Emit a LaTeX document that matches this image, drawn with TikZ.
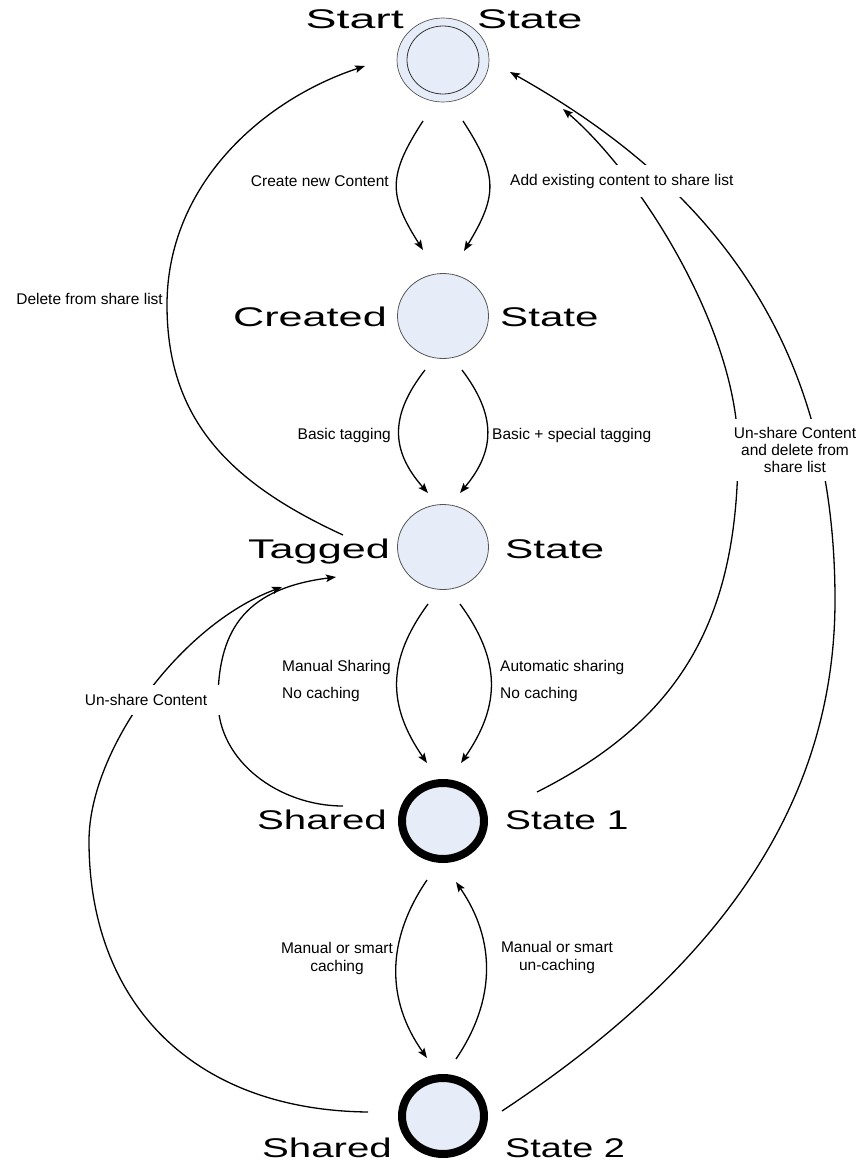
\documentclass[tikz,border=0pt]{standalone}
\usepackage{fontspec}
\usepackage{graphicx}
\setmainfont{Liberation Sans}
\usetikzlibrary{shapes.geometric,arrows.meta,calc}
\definecolor{statefill}{RGB}{231,237,248}
\definecolor{ringgray}{RGB}{85,85,85}
\newcommand\stretchtxt[2]{\scalebox{#1}[1]{#2}}
\begin{document}
\begin{tikzpicture}[x=1pt,y=-1pt,
  state/.style={ellipse, draw=ringgray, line width=0.8pt, fill=statefill, minimum width=91pt, minimum height=85pt, inner sep=0pt},
  startout/.style={ellipse, draw=ringgray, line width=0.7pt, fill=statefill, minimum width=92pt, minimum height=84pt, inner sep=0pt},
  startin/.style={ellipse, draw=black!80, line width=0.8pt, minimum width=72pt, minimum height=68pt, inner sep=0pt},
  shared/.style={ellipse, draw=black, line width=8pt, fill=statefill, minimum width=82pt, minimum height=76pt, inner sep=0pt},
  big/.style={font=\fontsize{27}{30}\selectfont, inner sep=0pt},
  lbl/.style={font=\fontsize{15.5}{18}\selectfont, inner sep=0pt},
  conn/.style={line width=1.3pt, -{Stealth[length=10pt,width=7.5pt,inset=2pt]}},
]
\useasboundingbox (0,0) rectangle (861,1162);

% states
\node[startout] (s0) at (443,60) {};
\node[startin] (s0in) at (s0) {};
\node[state] (cr) at (443,316) {};
\node[state] (tg) at (443,547) {};
\node[shared] (sh1) at (443,821) {};
\node[shared] (sh2) at (443,1116) {};

% vertical transitions
\draw[conn] ($(s0)+(-20,61)$) .. controls (388,175) and (388,195) .. ($(cr)+(-20,-66)$);
\draw[conn] ($(s0)+(20,61)$) .. controls (498,175) and (498,195) .. ($(cr)+(21,-65)$);
\draw[conn] ($(cr)+(-18,54)$) .. controls (390,415) and (390,450) .. ($(tg)+(-15,-54)$);
\draw[conn] ($(cr)+(19,54)$) .. controls (496,415) and (496,450) .. ($(tg)+(17,-54)$);
\draw[conn] ($(tg)+(-15,57)$) .. controls (387,660) and (387,705) .. ($(sh1)+(-16,-58)$);
\draw[conn] ($(tg)+(17,57)$) .. controls (501,660) and (501,705) .. ($(sh1)+(18,-58)$);
\draw[conn] ($(sh1)+(-16,59)$) .. controls (386,940) and (386,1000) .. ($(sh2)+(-16,-58)$);
\draw[conn] ($(sh2)+(13,-57)$) .. controls (496,1000) and (496,940) .. ($(sh1)+(13,61)$);

% long transitions
\draw[conn] ($(tg)+(-100,-12)$) .. controls (230,483) and (167,420) .. (167,305)
  .. controls (167,185) and (262,100) .. ($(s0)+(-78,6)$);
\draw[conn] ($(sh1)+(-100,-15)$) .. controls (280,806) and (218,762) .. (218,701)
  .. controls (218,625) and (250,588) .. ($(tg)+(-107,30)$);
\draw[conn] ($(sh2)+(-75,-4)$) .. controls (190,1110) and (89,1000) .. (89,841)
  .. controls (89,750) and (180,625) .. ($(tg)+(-161,40)$);
\draw[conn] ($(sh1)+(94,-29)$) .. controls (680,720) and (738,620) .. (738,450)
  .. controls (738,330) and (640,175) .. ($(s0)+(120,49)$);
\draw[conn] ($(sh2)+(59,-5)$) .. controls (700,980) and (835,820) .. (835,600)
  .. controls (835,350) and (720,190) .. ($(s0)+(67,12)$);

% state names
\node[big, anchor=base east] (n0a) at (404,28) {\stretchtxt{1.72}{Start}};
\node[big, anchor=base west] (n0b) at (477,28) {\stretchtxt{1.67}{State}};
\node[big, anchor=base east] (n1a) at (387,326) {\stretchtxt{1.6}{Created}};
\node[big, anchor=base west] (n1b) at (500,326) {\stretchtxt{1.56}{State}};
\node[big, anchor=base east] (n2a) at (390,558) {\stretchtxt{1.6}{Tagged}};
\node[big, anchor=base west] (n2b) at (505,558) {\stretchtxt{1.57}{State}};
\node[big, anchor=base east] (n3a) at (387,829) {\stretchtxt{1.49}{Shared}};
\node[big, anchor=base west] (n3b) at (505,829) {\stretchtxt{1.44}{State 1}};
\node[big, anchor=base east] (n4a) at (392,1157) {\stretchtxt{1.49}{Shared}};
\node[big, anchor=base west] (n4b) at (505,1157) {\stretchtxt{1.4}{State 2}};

% transition labels
\node[lbl, anchor=east] (l1) at (389,181) {Create new Content};
\node[lbl, anchor=west, fill=white, inner ysep=9pt, inner xsep=2pt] (l2) at (508,181) {Add existing content to share list};
\node[lbl, anchor=east] (l3) at (163,299) {Delete from share list};
\node[lbl, anchor=east] (l4) at (391,435) {Basic tagging};
\node[lbl, anchor=west] (l5) at (492,435) {Basic + special tagging};
\node[lbl, anchor=west, align=left] (l6) at (282,681) {Manual Sharing\\[9pt]No caching};
\node[lbl, anchor=west, align=left] (l7) at (500,681) {Automatic sharing\\[9pt]No caching};
\node[lbl, align=center] (l8) at (337,958) {Manual or smart\\caching};
\node[lbl, align=center] (l9) at (557,957) {Manual or smart\\un-caching};
\node[lbl, fill=white, inner ysep=9pt, inner xsep=14pt] (l10) at (146,700) {Un-share Content};
\node[lbl, fill=white, align=center, inner ysep=8pt, inner xsep=6pt, font=\fontsize{15.5}{17}\selectfont] (l11) at (795,450) {Un-share Content\\and delete from\\share list};
\end{tikzpicture}
\end{document}
